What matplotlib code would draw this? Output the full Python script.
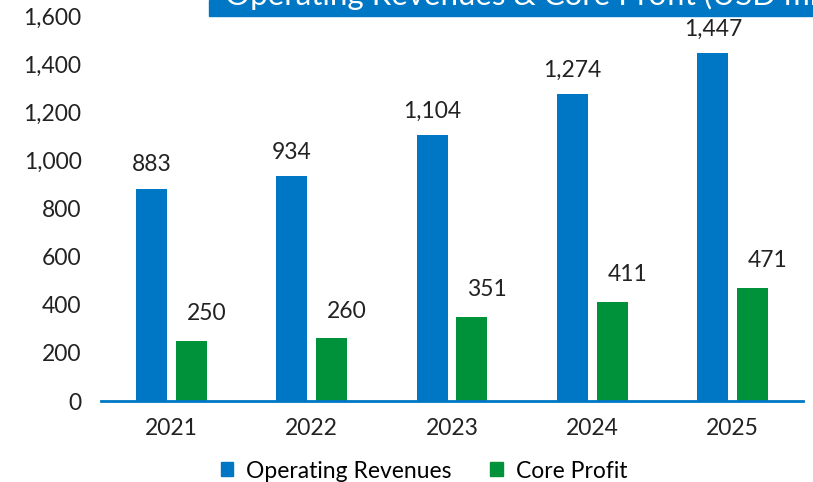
import matplotlib
matplotlib.use('Agg')
import matplotlib.pyplot as plt
import matplotlib.patches as mpatches
import numpy as np

years = ['2021', '2022', '2023', '2024', '2025']
revenues = [883, 934, 1104, 1274, 1447]
core_profit = [250, 260, 351, 411, 471]

BLUE = '#0077c4'
GREEN = '#00923a'
FONT = 'Lato'

plt.rcParams['font.family'] = [FONT, 'DejaVu Sans']

W, H = 813, 482
fig = plt.figure(figsize=(W / 100, H / 100), dpi=100)
fig.patch.set_facecolor('white')
ax = fig.add_axes([101 / W, 81 / H, 702 / W, 385 / H])

x = np.arange(len(years))
bw = 0.22
off = 0.142
b1 = ax.bar(x - off, revenues, bw, color=BLUE, label='Operating Revenues')
b2 = ax.bar(x + off, core_profit, bw, color=GREEN, label='Core Profit')

for xi, v in zip(x, revenues):
    ax.annotate(f'{v:,}', (xi - off, v), xytext=(0, 9.5), textcoords='offset points',
                ha='center', va='bottom', fontsize=16.5, color='#222222')
for xi, v in zip(x, core_profit):
    ax.annotate(f'{v:,}', (xi + off, v), xytext=(11, 12), textcoords='offset points',
                ha='center', va='bottom', fontsize=16.5, color='#222222')

ax.set_xlim(-0.5, 4.5)
ax.set_ylim(0, 1600)
ax.set_yticks(range(0, 1601, 200))
ax.set_yticklabels([f'{t:,}' for t in range(0, 1601, 200)])
ax.set_xticks(x)
ax.set_xticklabels(years)
ax.tick_params(axis='both', length=0, labelsize=16.5, colors='#222222')
ax.tick_params(axis='y', pad=14)
ax.tick_params(axis='x', pad=12)
for s in ['top', 'right', 'left']:
    ax.spines[s].set_visible(False)
ax.spines['bottom'].set_color(BLUE)
ax.spines['bottom'].set_linewidth(2)

# title banner, cut at the top of the image
fig.patches.append(mpatches.Rectangle((209 / W, 1 - 16 / H), 1, 16 / H,
                                      transform=fig.transFigure, color=BLUE, zorder=0))
fig.text(225 / W, 1 - 5 / H, 'Operating Revenues & Core Profit (USD mn)',
         color='white', fontsize=22.5, va='baseline', ha='left')

handles = [mpatches.Patch(color=BLUE, label='Operating Revenues'),
           mpatches.Patch(color=GREEN, label='Core Profit')]
fig.legend(handles=handles, loc='center', bbox_to_anchor=(424 / W, 1 - 471 / H),
           ncol=2, frameon=False, fontsize=16.5, handlelength=0.55, handleheight=0.55,
           handletextpad=0.55, columnspacing=1.7, borderaxespad=0, borderpad=0)

fig.savefig('out.png', dpi=100, facecolor='white')
